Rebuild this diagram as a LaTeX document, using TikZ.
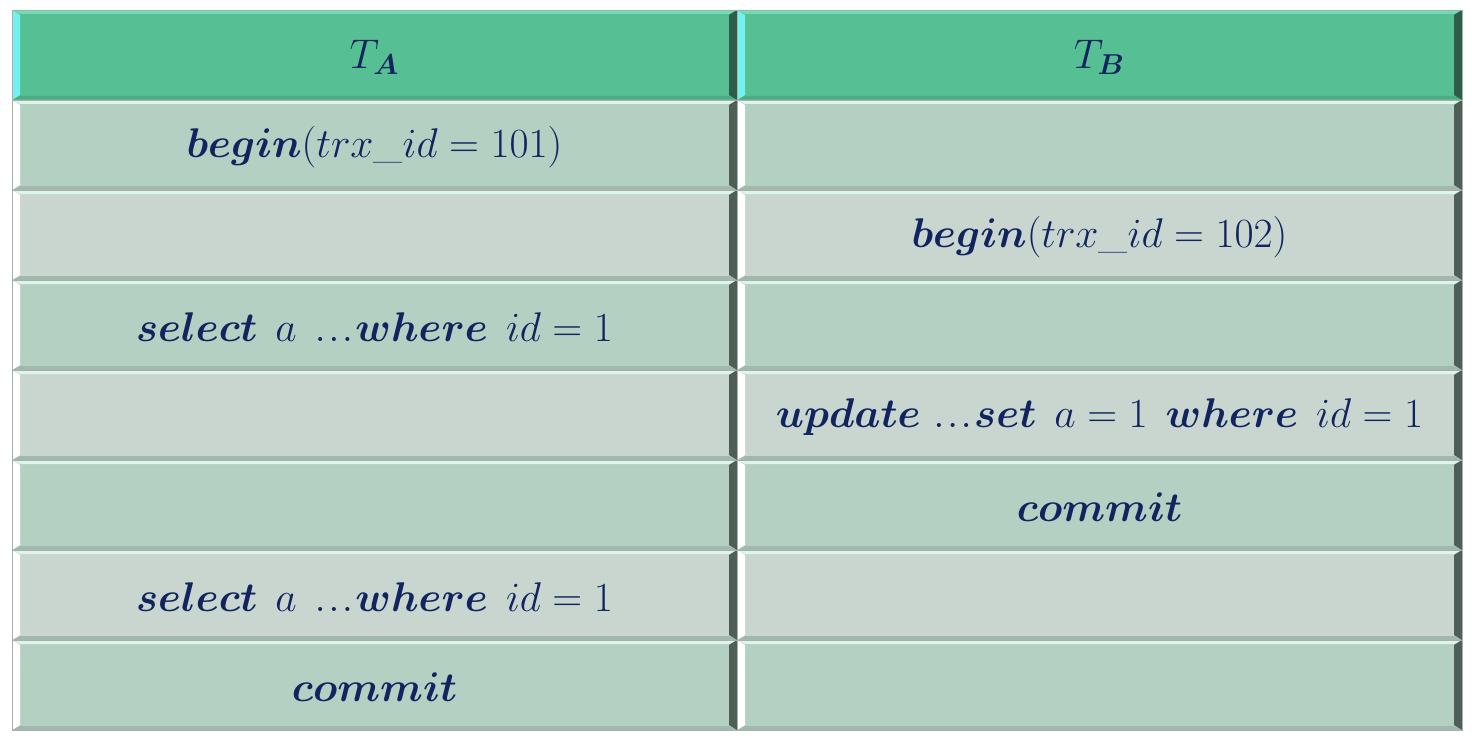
\documentclass[tikz,border=0pt]{standalone}
\usepackage{amsmath}
\usepackage{bm}
\definecolor{txt}{HTML}{12245F}
\definecolor{hface}{HTML}{57BF94}
\definecolor{htop}{HTML}{72DDB0}
\definecolor{hbot}{HTML}{4DAA83}
\definecolor{hleft}{HTML}{72F2EE}
\definecolor{hright}{HTML}{2E5E4A}
\definecolor{dface}{HTML}{B4D0C3}
\definecolor{gface}{HTML}{C8D6CF}
\definecolor{btop}{HTML}{DDF5EA}
\definecolor{bbot}{HTML}{A2B8AD}
\definecolor{bleft}{HTML}{FFFFFF}
\definecolor{bright}{HTML}{4F5E57}
\definecolor{edge}{HTML}{A8B0AC}
\newcommand{\sqlgap}{\hspace{9pt}}
\newcommand{\sqldots}{\mathord{.\mkern1mu.\mkern1mu.}\mkern1mu}
\tikzset{
  celltext/.style={text=txt,font=\fontsize{21}{25}\selectfont,inner sep=0pt,anchor=center},
}
% \bevcell{x0}{y0}{x1}{y1}{face}{top}{bottom}{left}{right}
\newcommand{\bevcell}[9]{%
  \fill[#5] (#1,#2) rectangle (#3,#4);
  \fill[#6] (#1,#2) -- (#3,#2) -- ({#3-8},{#2+4}) -- ({#1+8},{#2+4}) -- cycle;
  \fill[#7] (#1,#4) -- (#3,#4) -- ({#3-8},{#4-4}) -- ({#1+8},{#4-4}) -- cycle;
  \fill[#8] (#1,#2) -- ({#1+8},{#2+5}) -- ({#1+8},{#4-5}) -- (#1,#4) -- cycle;
  \fill[#9] (#3,#2) -- ({#3-8},{#2+5}) -- ({#3-8},{#4-5}) -- (#3,#4) -- cycle;
  \draw[edge,line width=0.4pt] (#1,#2) rectangle (#3,#4);
}
\begin{document}
\begin{tikzpicture}[x=0.5pt,y=-0.5pt]
\useasboundingbox (0,0) rectangle (1472,738);
% header
\bevcell{12}{10}{737}{100}{hface}{htop}{hbot}{hleft}{hright}
\bevcell{737}{10}{1462}{100}{hface}{htop}{hbot}{hleft}{hright}
% body rows
\foreach \r/\f in {1/dface,2/gface,3/dface,4/gface,5/dface,6/gface,7/dface}{
  \pgfmathsetmacro{\ya}{10+90*\r}
  \pgfmathsetmacro{\yb}{100+90*\r}
  \bevcell{12}{\ya}{737}{\yb}{\f}{btop}{bbot}{bleft}{bright}
  \bevcell{737}{\ya}{1462}{\yb}{\f}{btop}{bbot}{bleft}{bright}
}
\node[celltext] (ha) at (374.5,57) {$T_{\bm{A}}$};
\node[celltext] (hb) at (1099.5,57) {$T_{\bm{B}}$};
\node[celltext] (a1) at (374.5,147) {$\bm{begin}(trx\_id = 101)$};
\node[celltext] (b2) at (1099.5,237) {$\bm{begin}(trx\_id = 102)$};
\node[celltext] (a3) at (374.5,327) {$\bm{select}\sqlgap a\sqlgap\sqldots\bm{where}\sqlgap id = 1$};
\node[celltext] (b4) at (1099.5,417) {$\bm{update}\ \sqldots\bm{set}\sqlgap a = 1\sqlgap\bm{where}\sqlgap id = 1$};
\node[celltext] (b5) at (1099.5,507) {$\bm{commit}$};
\node[celltext] (a6) at (374.5,597) {$\bm{select}\sqlgap a\sqlgap\sqldots\bm{where}\sqlgap id = 1$};
\node[celltext] (a7) at (374.5,687) {$\bm{commit}$};
\end{tikzpicture}
\end{document}
